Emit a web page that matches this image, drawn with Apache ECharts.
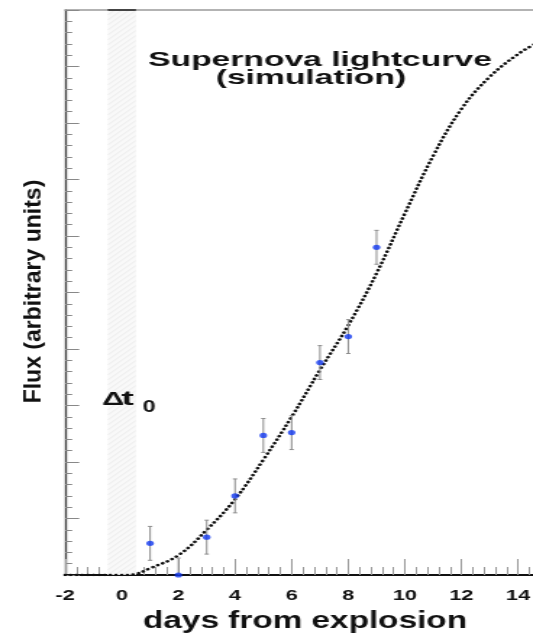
<!DOCTYPE html>
<html>
<head>
<meta charset="utf-8">
<script src="https://cdn.jsdelivr.net/npm/echarts@6/dist/echarts.min.js"></script>
<style>
  html, body { margin: 0; padding: 0; background: #fff; overflow: hidden; }
  #wrap { width: 533px; height: 636px; overflow: hidden; }
  /* the plot is laid out on a narrower canvas and widened horizontally */
  #chart { width: 368px; height: 636px; transform: scaleX(1.44837); transform-origin: 0 0; }
</style>
</head>
<body>
<div id="wrap"><div id="chart"></div></div>
<script>
// Widening factor applied to the chart container (533 / 368)
const STRETCH = 533 / 368;

// Observed flux per day, with symmetric errors
const days    = [1, 2, 3, 4, 5, 6, 7, 8, 9];
const flux    = [0.56, 0.00, 0.67, 1.40, 2.47, 2.52, 3.76, 4.22, 5.80];
const fluxErr = [0.30, 0.30, 0.30, 0.30, 0.30, 0.30, 0.30, 0.30, 0.30];

// Simulated light curve (model)
const modelDays = [-2, -1, 0, 0.4, 1, 2, 3, 4, 5, 6, 7, 8, 9, 10, 11, 12, 13, 14, 14.6];
const modelFlux = [0, 0, 0, 0.01, 0.12, 0.35, 0.80, 1.34, 2.04, 2.80, 3.63, 4.42, 5.34, 6.40, 7.42, 8.25, 8.82, 9.22, 9.40];

// Explosion-time uncertainty window (Δt0)
const windowStart = -0.5;
const windowEnd = 0.5;

// Axis ranges
const xMin = -2, xMax = 16, xStep = 2;
const yMin = 0, yMax = 10, yStep = 1;

const chart = echarts.init(document.getElementById('chart'));

const modelData = modelDays.map((d, i) => [d, modelFlux[i]]);
const pointData = days.map((d, i) => [d, flux[i]]);
const errData = days.map((d, i) => [d, flux[i], fluxErr[i]]);

const boldFont = '"Liberation Sans", Arial, Helvetica, sans-serif';

chart.setOption({
  animation: false,
  backgroundColor: '#ffffff',
  grid: { left: 45, right: -28.8, top: 10, bottom: 61, containLabel: false, outerBoundsMode: 'none' },
  xAxis: [
    {
      type: 'value', min: xMin, max: xMax, interval: xStep, position: 'bottom',
      axisLine: { onZero: false, lineStyle: { color: '#111', width: 2 } },
      axisTick: { inside: true, length: 16, lineStyle: { color: '#999', width: 1 } },
      minorTick: { show: true, splitNumber: 5, length: 8, lineStyle: { color: '#999', width: 1 } },
      splitLine: { show: false },
      axisLabel: { margin: 13, color: '#111', fontFamily: boldFont, fontWeight: 'bold', fontSize: 15 },
      name: 'days from explosion', nameLocation: 'middle', nameGap: 35,
      nameTextStyle: { color: '#111', fontFamily: boldFont, fontWeight: 'bold', fontSize: 23, padding: [0, 20.6, 0, 0] }
    },
    {
      type: 'value', min: xMin, max: xMax, interval: xStep, position: 'top',
      axisLine: { onZero: false, lineStyle: { color: '#9a9a9a', width: 1.5 } },
      axisTick: { show: false }, axisLabel: { show: false }, splitLine: { show: false }
    }
  ],
  yAxis: {
    type: 'value', min: yMin, max: yMax, interval: yStep,
    axisLine: { onZero: false, lineStyle: { color: '#444', width: 1.4 } },
    axisTick: { inside: true, length: 9.7, lineStyle: { color: '#888', width: 1 } },
    minorTick: { show: true, splitNumber: 5, length: 4.8, lineStyle: { color: '#888', width: 1 } },
    axisLabel: { show: false },
    splitLine: { show: false }
  },
  graphic: [
    {
      type: 'text', x: 24, y: 291.5, rotation: Math.PI / 2, scaleY: 1 / STRETCH, z: 20,
      style: { text: 'Flux (arbitrary units)', fill: '#111', font: 'bold 23px ' + boldFont, align: 'center', verticalAlign: 'middle' }
    },
    {
      type: 'text', x: 220.9, y: 60, scaleX: 1.105, z: 20,
      style: { text: 'Supernova lightcurve', fill: '#111', font: 'bold 21px ' + boldFont, align: 'center', verticalAlign: 'middle' }
    },
    {
      type: 'text', x: 214.7, y: 78.5, scaleX: 1.105, z: 20,
      style: { text: '(simulation)', fill: '#111', font: 'bold 21px ' + boldFont, align: 'center', verticalAlign: 'middle' }
    },
    {
      type: 'text', x: 70.5, y: 399.5, scaleX: 1.12, z: 20,
      style: { text: 'Δ', fill: '#111', font: 'bold 19px ' + boldFont, align: 'left', verticalAlign: 'middle' }
    },
    {
      type: 'text', x: 83.8, y: 399.5, scaleX: 1.3, z: 20,
      style: { text: 't', fill: '#111', font: 'bold 20px ' + boldFont, align: 'left', verticalAlign: 'middle' }
    },
    {
      type: 'text', x: 98.6, y: 407.5, z: 20,
      style: { text: '0', fill: '#111', font: 'bold 16px ' + boldFont, align: 'left', verticalAlign: 'middle' }
    }
  ],
  series: [
    {
      // shaded, lightly hatched Δt0 window spanning the full flux range
      type: 'custom', name: 'window', z: 1, silent: true,
      data: [[windowStart, windowEnd]],
      renderItem: function (params, api) {
        const a = api.coord([api.value(0), yMax]);
        const b = api.coord([api.value(1), yMin]);
        const w = b[0] - a[0], h = b[1] - a[1];
        const hatch = [];
        for (let t = -w; t < h + w; t += 5) {
          hatch.push({
            type: 'line',
            shape: { x1: a[0], y1: a[1] + t + w, x2: b[0], y2: a[1] + t },
            style: { stroke: '#e9e9e9', lineWidth: 0.8 }
          });
        }
        return {
          type: 'group',
          children: [
            { type: 'rect', shape: { x: a[0], y: a[1], width: w, height: h }, style: { fill: '#f9f9f9' } },
            { type: 'group', children: hatch,
              clipPath: { type: 'rect', shape: { x: a[0], y: a[1], width: w, height: h } } },
            { type: 'line', shape: { x1: a[0], y1: a[1], x2: b[0], y2: a[1] },
              style: { stroke: '#444', lineWidth: 2 } }
          ]
        };
      }
    },
    {
      type: 'line', name: 'model', z: 3, data: modelData,
      smooth: 0.4, showSymbol: false, symbol: 'none',
      lineStyle: { color: '#111', width: 2.6, type: [0.1, 3.8], cap: 'round' }
    },
    {
      type: 'custom', name: 'errors', z: 4, clip: true,
      data: errData,
      renderItem: function (params, api) {
        const x = api.value(0), y = api.value(1), e = api.value(2);
        const hi = api.coord([x, y + e]);
        const lo = api.coord([x, y - e]);
        const cap = 1.5;
        const st = { stroke: '#8c8c8c', lineWidth: 1 };
        return {
          type: 'group',
          children: [
            { type: 'line', shape: { x1: hi[0], y1: hi[1], x2: lo[0], y2: lo[1] }, style: st },
            { type: 'line', shape: { x1: hi[0] - cap, y1: hi[1], x2: hi[0] + cap, y2: hi[1] }, style: st },
            { type: 'line', shape: { x1: lo[0] - cap, y1: lo[1], x2: lo[0] + cap, y2: lo[1] }, style: st }
          ]
        };
      }
    },
    {
      type: 'scatter', name: 'data', z: 5, data: pointData,
      symbol: 'circle', symbolSize: 5.2,
      itemStyle: { color: '#1238f0' }
    }
  ]
});
</script>
</body>
</html>
